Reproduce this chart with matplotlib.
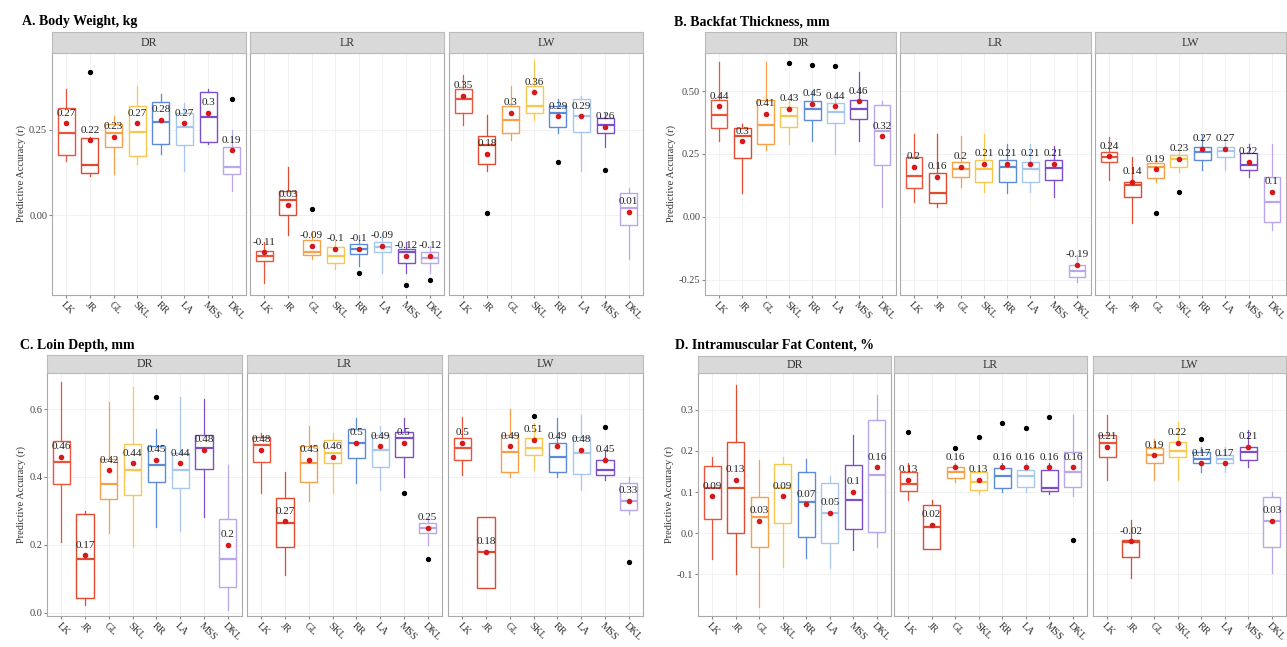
import numpy as np
import matplotlib
matplotlib.use("Agg")
import matplotlib.pyplot as plt

plt.rcParams['font.family'] = ['Liberation Serif', 'DejaVu Serif']

methods = ["LK", "JR", "GL", "SKL", "RR", "LA", "MSS", "DKL"]
colors = ['#E8553A', '#E04B2F', '#F7A04A', '#F9C74F',
          '#5B8BD9', '#A7C7F0', '#7B4FC9', '#B9A6EC']
breeds = ["DR", "LR", "LW"]

# (whisker low, q1, median, q3, whisker high, mean)
bw_dr = [(0.16, 0.176, 0.24, 0.315, 0.37, 0.27), (0.115, 0.123, 0.147, 0.226, 0.23, 0.22),
         (0.12, 0.2, 0.24, 0.268, 0.29, 0.23), (0.15, 0.174, 0.244, 0.32, 0.38, 0.27),
         (0.18, 0.208, 0.274, 0.333, 0.355, 0.28), (0.13, 0.206, 0.26, 0.3, 0.33, 0.27),
         (0.21, 0.215, 0.288, 0.36, 0.37, 0.3), (0.07, 0.12, 0.14, 0.2, 0.25, 0.19)]
bw_lr = [(-0.2, -0.135, -0.12, -0.105, -0.08, -0.11), (-0.06, 0.0, 0.044, 0.07, 0.14, 0.03),
         (-0.13, -0.118, -0.11, -0.074, -0.05, -0.09), (-0.16, -0.14, -0.12, -0.094, -0.07, -0.1),
         (-0.15, -0.115, -0.1, -0.085, -0.06, -0.1), (-0.17, -0.11, -0.095, -0.08, -0.06, -0.09),
         (-0.17, -0.14, -0.11, -0.1, -0.08, -0.12), (-0.17, -0.14, -0.125, -0.11, -0.09, -0.12)]
bw_lw = [(0.265, 0.3, 0.34, 0.37, 0.41, 0.35), (0.13, 0.15, 0.206, 0.232, 0.294, 0.18),
         (0.22, 0.24, 0.28, 0.32, 0.38, 0.3), (0.28, 0.3, 0.32, 0.38, 0.456, 0.36),
         (0.24, 0.26, 0.3, 0.32, 0.34, 0.29), (0.13, 0.245, 0.29, 0.34, 0.35, 0.29),
         (0.2, 0.24, 0.265, 0.285, 0.3, 0.26), (-0.13, -0.03, 0.02, 0.064, 0.08, 0.01)]
bw_out = [[(1, 0.42), (7, 0.34)], [(2, 0.017), (4, -0.17), (6, -0.205), (7, -0.19)],
          [(1, 0.005), (4, 0.157), (6, 0.132)]]

bf_dr = [(0.3, 0.353, 0.405, 0.464, 0.615, 0.44), (0.095, 0.234, 0.32, 0.353, 0.37, 0.3),
         (0.266, 0.29, 0.365, 0.464, 0.615, 0.41), (0.29, 0.357, 0.4, 0.436, 0.47, 0.43),
         (0.3, 0.385, 0.428, 0.46, 0.5, 0.45), (0.25, 0.373, 0.417, 0.452, 0.48, 0.44),
         (0.3, 0.39, 0.43, 0.464, 0.575, 0.46), (0.04, 0.206, 0.34, 0.444, 0.46, 0.32)]
bf_lr = [(0.06, 0.115, 0.163, 0.238, 0.33, 0.2), (0.04, 0.055, 0.095, 0.175, 0.33, 0.16),
         (0.12, 0.16, 0.19, 0.22, 0.32, 0.2), (0.1, 0.14, 0.19, 0.226, 0.33, 0.21),
         (0.095, 0.14, 0.2, 0.226, 0.29, 0.21), (0.1, 0.14, 0.19, 0.22, 0.29, 0.21),
         (0.08, 0.147, 0.194, 0.226, 0.28, 0.21), (-0.26, -0.24, -0.215, -0.19, -0.15, -0.19)]
bf_lw = [(0.147, 0.218, 0.238, 0.258, 0.317, 0.24), (-0.025, 0.08, 0.127, 0.14, 0.238, 0.14),
         (0.14, 0.155, 0.2, 0.214, 0.23, 0.19), (0.18, 0.2, 0.23, 0.246, 0.26, 0.23),
         (0.187, 0.226, 0.258, 0.278, 0.325, 0.27), (0.187, 0.238, 0.26, 0.278, 0.313, 0.27),
         (0.16, 0.187, 0.206, 0.254, 0.29, 0.22), (-0.05, -0.02, 0.06, 0.16, 0.29, 0.1)]
bf_out = [[(3, 0.61), (4, 0.603), (5, 0.6)], [], [(2, 0.016), (3, 0.1)]]

ld_dr = [(0.21, 0.38, 0.445, 0.506, 0.68, 0.46), (0.024, 0.044, 0.16, 0.29, 0.3, 0.17),
         (0.235, 0.335, 0.38, 0.452, 0.62, 0.42), (0.195, 0.347, 0.42, 0.497, 0.665, 0.44),
         (0.253, 0.385, 0.435, 0.49, 0.54, 0.45), (0.24, 0.367, 0.42, 0.47, 0.636, 0.44),
         (0.283, 0.425, 0.485, 0.524, 0.63, 0.48), (0.009, 0.077, 0.158, 0.276, 0.435, 0.2)]
ld_lr = [(0.353, 0.445, 0.494, 0.518, 0.53, 0.48), (0.112, 0.195, 0.264, 0.337, 0.415, 0.27),
         (0.33, 0.385, 0.44, 0.49, 0.55, 0.45), (0.353, 0.44, 0.47, 0.51, 0.53, 0.46),
         (0.383, 0.455, 0.5, 0.54, 0.573, 0.5), (0.362, 0.43, 0.48, 0.524, 0.55, 0.49),
         (0.4, 0.46, 0.515, 0.533, 0.573, 0.5), (0.2, 0.235, 0.25, 0.265, 0.28, 0.25)]
ld_lw = [(0.406, 0.45, 0.485, 0.515, 0.577, 0.5), (0.073, 0.073, 0.18, 0.283, 0.283, 0.18),
         (0.4, 0.415, 0.474, 0.524, 0.6, 0.49), (0.42, 0.465, 0.485, 0.515, 0.56, 0.51),
         (0.4, 0.415, 0.459, 0.5, 0.573, 0.49), (0.362, 0.41, 0.47, 0.518, 0.582, 0.48),
         (0.39, 0.406, 0.42, 0.45, 0.48, 0.45), (0.29, 0.303, 0.33, 0.382, 0.4, 0.33)]
ld_out = [[(4, 0.636)], [(6, 0.353), (7, 0.158)], [(3, 0.58), (6, 0.547), (7, 0.15)]]

imf_dr = [(-0.064, 0.034, 0.11, 0.163, 0.185, 0.09), (-0.1, 0.0, 0.11, 0.222, 0.36, 0.13),
          (-0.18, -0.034, 0.04, 0.088, 0.178, 0.03), (-0.083, 0.024, 0.11, 0.168, 0.185, 0.09),
          (-0.06, -0.01, 0.076, 0.15, 0.18, 0.07), (-0.085, -0.024, 0.05, 0.122, 0.14, 0.05),
          (-0.04, 0.01, 0.08, 0.166, 0.24, 0.1), (-0.034, 0.003, 0.141, 0.276, 0.337, 0.16)]
imf_lr = [(0.08, 0.102, 0.12, 0.15, 0.17, 0.13), (-0.039, -0.039, 0.015, 0.068, 0.08, 0.02),
          (0.125, 0.134, 0.15, 0.16, 0.17, 0.16), (0.095, 0.105, 0.125, 0.15, 0.16, 0.13),
          (0.1, 0.11, 0.14, 0.158, 0.17, 0.16), (0.1, 0.112, 0.14, 0.154, 0.17, 0.16),
          (0.095, 0.102, 0.11, 0.154, 0.17, 0.16), (0.09, 0.112, 0.15, 0.198, 0.288, 0.16)]
imf_lw = [(0.13, 0.185, 0.22, 0.239, 0.288, 0.21), (-0.11, -0.058, -0.022, -0.017, 0.032, -0.02),
          (0.13, 0.17, 0.19, 0.207, 0.23, 0.19), (0.13, 0.185, 0.2, 0.222, 0.27, 0.22),
          (0.15, 0.17, 0.18, 0.198, 0.21, 0.17), (0.15, 0.17, 0.18, 0.19, 0.21, 0.17),
          (0.16, 0.178, 0.198, 0.21, 0.25, 0.21), (-0.098, -0.034, 0.03, 0.088, 0.1, 0.03)]
imf_out = [[], [(0, 0.246), (2, 0.207), (3, 0.234), (4, 0.268), (5, 0.256), (6, 0.283), (7, -0.017)],
           [(4, 0.23)]]

W, H = 1287, 647
fig = plt.figure(figsize=(W / 100, H / 100), dpi=100)

# panel layout in pixels: title, title pos, facet lefts, facet width, strip top, plot top, plot bottom
panels = [
    ("A. Body Weight, kg", (22, 22), [52, 250, 449], 194, 32, 53, 295,
     [bw_dr, bw_lr, bw_lw], bw_out, (-0.235, 0.476), [0.0, 0.25], "%.2f"),
    ("B. Backfat Thickness, mm", (674, 22), [705, 900, 1095], 191, 32, 53, 295,
     [bf_dr, bf_lr, bf_lw], bf_out, (-0.31, 0.651), [-0.25, 0.0, 0.25, 0.5], "%.2f"),
    ("C. Loin Depth, mm", (20, 345), [47, 247, 448], 195, 355, 373, 616,
     [ld_dr, ld_lr, ld_lw], ld_out, (-0.009, 0.706), [0.0, 0.2, 0.4, 0.6], "%.1f"),
    ("D. Intramuscular Fat Content, %", (675, 345), [698, 894, 1093], 193, 356, 373, 616,
     [imf_dr, imf_lr, imf_lw], imf_out, (-0.202, 0.39), [-0.1, 0.0, 0.1, 0.2, 0.3], "%.1f"),
]

pos = np.arange(1, len(methods) + 1)

for title, tpos, lefts, fw, stop, ptop, pbot, facets, outs, ylim, yticks, yfmt in panels:
    fig.text(tpos[0] / W, 1 - tpos[1] / H, title, fontsize=10, fontweight='bold',
             ha='left', va='center')
    for k, (left, rows, out) in enumerate(zip(lefts, facets, outs)):
        ax = fig.add_axes([left / W, 1 - pbot / H, fw / W, (pbot - ptop) / H])
        sax = fig.add_axes([left / W, 1 - ptop / H, fw / W, (ptop - stop) / H])
        sax.set_facecolor('#D9D9D9')
        sax.set_xticks([])
        sax.set_yticks([])
        for s in sax.spines.values():
            s.set_color('#BBBBBB')
        sax.text(0.5, 0.5, breeds[k], ha='center', va='center', fontsize=8.5, color='#333333')

        stats = []
        for r in rows:
            stats.append(dict(whislo=r[0], q1=r[1], med=r[2], q3=r[3], whishi=r[4], fliers=[]))
        bp = ax.bxp(stats, positions=pos, widths=0.72, showcaps=False, patch_artist=True,
                    showfliers=False)
        for i, c in enumerate(colors):
            bp['boxes'][i].set(facecolor='white', edgecolor=c, linewidth=1.0)
            bp['medians'][i].set(color=c, linewidth=1.6)
            bp['whiskers'][2 * i].set(color=c, linewidth=0.9)
            bp['whiskers'][2 * i + 1].set(color=c, linewidth=0.9)

        means = [r[5] for r in rows]
        ax.plot(pos, means, 'o', color='#D7191C', markersize=3, zorder=4)
        for x, m in zip(pos, means):
            ax.annotate(f"{m:g}", (x, m), xytext=(0, 4), textcoords='offset points',
                        ha='center', va='bottom', fontsize=8, color='#222222', zorder=5)
        if out:
            ox = [pos[i] for i, v in out]
            oy = [v for i, v in out]
            ax.plot(ox, oy, 'o', color='black', markersize=2.8, zorder=4)

        ax.set_xlim(0.4, 8.6)
        ax.set_ylim(*ylim)
        ax.set_xticks(pos)
        ax.set_xticklabels(methods, rotation=-45, ha='left', fontsize=7.5, color='#333333',
                           rotation_mode='anchor')
        ax.set_yticks(yticks)
        ax.grid(True, color='#F0F0F0', linewidth=0.6)
        ax.set_axisbelow(True)
        ax.tick_params(length=2, color='#888888', labelsize=7.5, pad=1.5)
        for s in ax.spines.values():
            s.set_color('#AAAAAA')
        if k == 0:
            ax.set_yticklabels([yfmt % t for t in yticks], color='#444444')
            ax.set_ylabel("Predictive Accuracy (r)", fontsize=7.5, color='#333333', labelpad=2)
        else:
            ax.set_yticklabels([])
            ax.tick_params(axis='y', length=0)

fig.savefig("out.png", dpi=100)
